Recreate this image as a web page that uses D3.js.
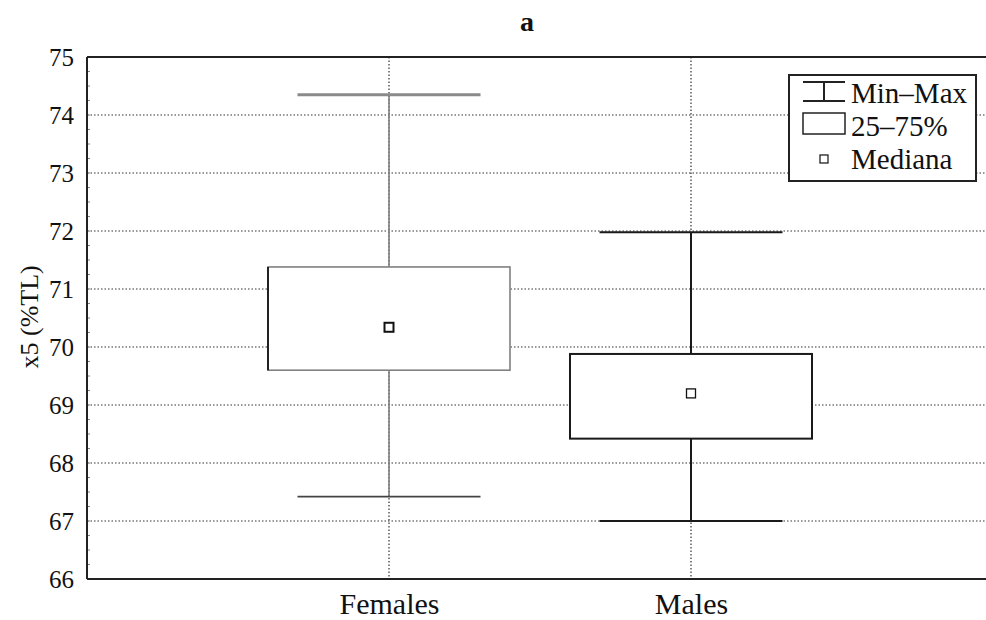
<!DOCTYPE html>
<html>
<head>
<meta charset="utf-8">
<script src="https://cdn.jsdelivr.net/npm/d3@7"></script>
<style>
  body { margin: 0; background: #fff; }
</style>
</head>
<body>
<div id="chart"></div>
<script>
// data
var groups = ['Females', 'Males']
var mins = [67.42, 67.0]
var q1s = [69.6, 68.42]
var medians = [70.34, 69.2]
var q3s = [71.38, 69.88]
var maxs = [74.35, 71.98]
var yTicks = [66, 67, 68, 69, 70, 71, 72, 73, 74, 75]
var legendLabels = ['Min\u2013Max', '25\u201375%', 'Mediana']

var W = 986, H = 620
var margin = {top: 57, right: -7, bottom: 41, left: 87}
var width = W - margin.left - margin.right,
  height = H - margin.top - margin.bottom
var serif = '"Liberation Serif", "Times New Roman", serif'

var svg = d3.select('#chart').append('svg')
  .attr('width', W).attr('height', H)

var g = svg.append('g')
  .attr('transform', 'translate(' + margin.left + ',' + margin.top + ')')

var y = d3.scaleLinear().domain([66, 75]).range([height, 0])
var x = d3.scalePoint().domain(groups).range([0, width]).padding(1)

var boxW = 242, capW = 183
var colors = ['#808080', '#1a1a1a']
var widths = [1.6, 2]

// grid lines
g.selectAll('.hgrid')
  .data(yTicks.filter(function(d) { return d > 66 && d < 75 }))
  .enter().append('line')
  .attr('x1', 0).attr('x2', width)
  .attr('y1', function(d) { return y(d) }).attr('y2', function(d) { return y(d) })
  .attr('stroke', '#333').attr('stroke-width', 1.2)
  .attr('stroke-dasharray', '1.5,2')

g.selectAll('.vgrid')
  .data(groups)
  .enter().append('line')
  .attr('x1', function(d) { return x(d) }).attr('x2', function(d) { return x(d) })
  .attr('y1', 0).attr('y2', height)
  .attr('stroke', '#333').attr('stroke-width', 1.2)
  .attr('stroke-dasharray', '1.5,2')

// axes
var yAxis = d3.axisLeft(y).tickValues(yTicks).tickSize(0).tickPadding(13)
  .tickFormat(d3.format('d'))
var ya = g.append('g').call(yAxis)
ya.select('.domain').remove()
ya.selectAll('text').style('font-size', '25px').attr('dy', '0.34em')

var minor = d3.range(66, 75.01, 0.25)
g.selectAll('.minor')
  .data(minor)
  .enter().append('line')
  .attr('x1', 0).attr('x2', 3)
  .attr('y1', function(d) { return y(d) }).attr('y2', function(d) { return y(d) })
  .attr('stroke', '#666').attr('stroke-width', 0.8)

var xAxis = d3.axisBottom(x).tickSize(0).tickPadding(14)
var xa = g.append('g').attr('transform', 'translate(0,' + height + ')').call(xAxis)
xa.select('.domain').remove()
xa.selectAll('text').style('font-size', '30px')

// frame
g.append('line').attr('x1', 0).attr('x2', width).attr('y1', 0).attr('y2', 0)
  .attr('stroke', '#222').attr('stroke-width', 2)
g.append('line').attr('x1', 0).attr('x2', width).attr('y1', height).attr('y2', height)
  .attr('stroke', '#222').attr('stroke-width', 2)
g.append('line').attr('x1', 0).attr('x2', 0).attr('y1', 0).attr('y2', height)
  .attr('stroke', '#222').attr('stroke-width', 2)

// boxes
groups.forEach(function(grp, i) {
  var cx = x(grp)
  var c = colors[i], sw = widths[i]
  // whiskers
  g.append('line').attr('x1', cx).attr('x2', cx)
    .attr('y1', y(maxs[i])).attr('y2', y(q3s[i]))
    .attr('stroke', c).attr('stroke-width', sw)
  g.append('line').attr('x1', cx).attr('x2', cx)
    .attr('y1', y(q1s[i])).attr('y2', y(mins[i]))
    .attr('stroke', c).attr('stroke-width', sw)
  // caps
  g.append('line').attr('x1', cx - capW / 2).attr('x2', cx + capW / 2)
    .attr('y1', y(maxs[i])).attr('y2', y(maxs[i]))
    .attr('stroke', i === 0 ? '#8a8a8a' : c).attr('stroke-width', i === 0 ? 3 : 2)
  g.append('line').attr('x1', cx - capW / 2).attr('x2', cx + capW / 2)
    .attr('y1', y(mins[i])).attr('y2', y(mins[i]))
    .attr('stroke', i === 0 ? '#444' : c).attr('stroke-width', sw)
  // box
  g.append('rect')
    .attr('x', cx - boxW / 2).attr('width', boxW)
    .attr('y', y(q3s[i])).attr('height', y(q1s[i]) - y(q3s[i]))
    .attr('fill', '#fff').attr('stroke', c).attr('stroke-width', sw)
  if (i === 0) {
    g.append('line').attr('x1', cx - boxW / 2).attr('x2', cx - boxW / 2)
      .attr('y1', y(q3s[i])).attr('y2', y(q1s[i]))
      .attr('stroke', '#222').attr('stroke-width', 2)
  }
  // median
  g.append('rect')
    .attr('x', cx - 4.5).attr('y', y(medians[i]) - 4.5)
    .attr('width', 9).attr('height', 9)
    .attr('fill', '#fff').attr('stroke', '#111').attr('stroke-width', i === 0 ? 2 : 1.3)
})

// title and y label
svg.append('text').attr('x', 527).attr('y', 31)
  .attr('text-anchor', 'middle').style('font-size', '28px').style('font-weight', 'bold')
  .text('a')

svg.append('text')
  .attr('transform', 'translate(38,' + (margin.top + y(70.52)) + ') rotate(-90)')
  .attr('text-anchor', 'middle').style('font-size', '26px')
  .text('x5 (%TL)')

// legend
var leg = svg.append('g').attr('transform', 'translate(789,75)')
leg.append('rect').attr('width', 187).attr('height', 106)
  .attr('fill', '#fff').attr('stroke', '#222').attr('stroke-width', 2)

leg.selectAll('.ltext').data(legendLabels).enter().append('text')
  .attr('x', 62).attr('y', function(d, i) { return 28 + i * 33 })
  .style('font-size', '29px')
  .text(function(d) { return d })

// min-max symbol
leg.append('line').attr('x1', 14).attr('x2', 56).attr('y1', 7).attr('y2', 7)
  .attr('stroke', '#222').attr('stroke-width', 2)
leg.append('line').attr('x1', 35).attr('x2', 35).attr('y1', 7).attr('y2', 26)
  .attr('stroke', '#222').attr('stroke-width', 2)
leg.append('line').attr('x1', 14).attr('x2', 56).attr('y1', 26).attr('y2', 26)
  .attr('stroke', '#222').attr('stroke-width', 2.2)
// box symbol
leg.append('rect').attr('x', 14).attr('y', 38).attr('width', 42).attr('height', 21)
  .attr('fill', '#fff').attr('stroke', '#222').attr('stroke-width', 1.5)
// median symbol
leg.append('rect').attr('x', 31).attr('y', 80).attr('width', 8).attr('height', 8)
  .attr('fill', '#fff').attr('stroke', '#222').attr('stroke-width', 1.3)

// serif everywhere
svg.selectAll('text').style('font-family', serif).attr('fill', '#111')
</script>
</body>
</html>
